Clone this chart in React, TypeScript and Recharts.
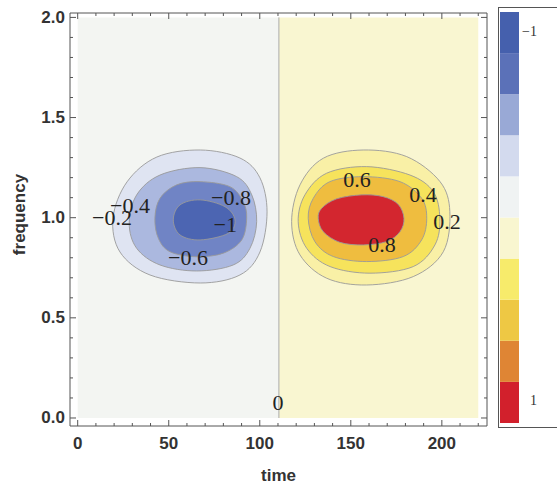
import React from 'react';
import {
  ComposedChart,
  BarChart,
  Bar,
  Scatter,
  XAxis,
  YAxis,
  ReferenceArea,
  ReferenceLine,
} from 'recharts';

// tick positions on the frame
const xTicks = [0, 10, 20, 30, 40, 50, 60, 70, 80, 90, 100, 110, 120, 130, 140, 150, 160, 170, 180, 190, 200, 210, 220];
const yTicks = [0, 0.1, 0.2, 0.3, 0.4, 0.5, 0.6, 0.7, 0.8, 0.9, 1.0, 1.1, 1.2, 1.3, 1.4, 1.5, 1.6, 1.7, 1.8, 1.9, 2.0];

// contour outlines (time, frequency)
const negLevel02 = [
  { x: 67.3, y: 1.338 }, { x: 89.1, y: 1.298 }, { x: 100.1, y: 1.199 }, { x: 104.0, y: 1.029 },
  { x: 100.1, y: 0.829 }, { x: 89.1, y: 0.714 }, { x: 67.3, y: 0.674 }, { x: 39.7, y: 0.714 },
  { x: 23.2, y: 0.829 }, { x: 19.4, y: 0.999 }, { x: 27.1, y: 1.179 }, { x: 43.5, y: 1.303 },
];
const negLevel04 = [
  { x: 67.2, y: 1.25 }, { x: 87.3, y: 1.205 }, { x: 95.6, y: 1.114 }, { x: 98.3, y: 0.98 },
  { x: 94.6, y: 0.847 }, { x: 85.4, y: 0.764 }, { x: 65.3, y: 0.734 }, { x: 45.2, y: 0.764 },
  { x: 32.4, y: 0.847 }, { x: 28.3, y: 0.972 }, { x: 32.4, y: 1.114 }, { x: 45.2, y: 1.213 },
];
const negLevel06 = [
  { x: 67.2, y: 1.18 }, { x: 83.6, y: 1.155 }, { x: 90.9, y: 1.08 }, { x: 92.8, y: 0.997 },
  { x: 90.1, y: 0.889 }, { x: 80.0, y: 0.823 }, { x: 65.3, y: 0.805 }, { x: 50.7, y: 0.83 },
  { x: 44.3, y: 0.897 }, { x: 42.4, y: 0.997 }, { x: 45.2, y: 1.097 }, { x: 54.4, y: 1.164 },
];
const negLevel08 = [
  { x: 67.2, y: 1.089 }, { x: 80.9, y: 1.055 }, { x: 86.4, y: 0.989 }, { x: 82.7, y: 0.922 },
  { x: 67.2, y: 0.889 }, { x: 56.2, y: 0.914 }, { x: 52.5, y: 0.989 }, { x: 56.2, y: 1.064 },
];
const posLevel02 = [
  { x: 156.8, y: 1.338 }, { x: 134.9, y: 1.297 }, { x: 122.1, y: 1.164 }, { x: 117.5, y: 0.98 },
  { x: 122.1, y: 0.814 }, { x: 136.7, y: 0.698 }, { x: 158.7, y: 0.664 }, { x: 184.3, y: 0.706 },
  { x: 200.8, y: 0.83 }, { x: 204.4, y: 1.03 }, { x: 199.0, y: 1.18 }, { x: 180.7, y: 1.305 },
];
const posLevel04 = [
  { x: 158.7, y: 1.255 }, { x: 136.7, y: 1.222 }, { x: 124.8, y: 1.114 }, { x: 121.1, y: 0.98 },
  { x: 125.8, y: 0.847 }, { x: 138.6, y: 0.756 }, { x: 160.5, y: 0.723 }, { x: 184.3, y: 0.756 },
  { x: 196.2, y: 0.864 }, { x: 198.9, y: 0.997 }, { x: 195.3, y: 1.13 }, { x: 182.5, y: 1.213 },
];
const posLevel06 = [
  { x: 156.8, y: 1.205 }, { x: 138.5, y: 1.18 }, { x: 129.4, y: 1.097 }, { x: 126.6, y: 0.997 },
  { x: 130.3, y: 0.88 }, { x: 140.4, y: 0.806 }, { x: 158.7, y: 0.781 }, { x: 178.8, y: 0.806 },
  { x: 188.9, y: 0.889 }, { x: 191.7, y: 0.997 }, { x: 188.9, y: 1.097 }, { x: 177.0, y: 1.18 },
];
const posLevel08 = [
  { x: 156.0, y: 1.114 }, { x: 142.2, y: 1.094 }, { x: 134.0, y: 1.047 }, { x: 132.1, y: 0.997 },
  { x: 134.9, y: 0.93 }, { x: 144.0, y: 0.877 }, { x: 156.8, y: 0.864 }, { x: 169.7, y: 0.881 },
  { x: 177.0, y: 0.93 }, { x: 179.2, y: 0.997 }, { x: 176.0, y: 1.067 }, { x: 167.8, y: 1.105 },
];

const contourLabels = [
  { x: 153.4, y: 1.189, text: '0.6' },
  { x: 189.6, y: 1.114, text: '0.4' },
  { x: 202.8, y: 0.979, text: '0.2' },
  { x: 167.1, y: 0.864, text: '0.8' },
  { x: 110.0, y: 0.075, text: '0' },
  { x: 18.8, y: 0.999, text: '\u22120.2' },
  { x: 28.7, y: 1.059, text: '\u22120.4' },
  { x: 84.2, y: 1.099, text: '\u22120.8' },
  { x: 81.0, y: 0.964, text: '\u22121' },
  { x: 60.6, y: 0.799, text: '\u22120.6' },
];

const zeroTime = 110.5;

// colour bar, top to bottom
const barColors = ['#4560ad', '#5b71b8', '#99a9d6', '#d3daee', '#f0f3f3', '#f9f6d0', '#f7eb6b', '#eec844', '#df8534', '#d2202c'];

const contours = [
  { pts: negLevel02, fill: '#dfe4f2' },
  { pts: negLevel04, fill: '#abb8df' },
  { pts: negLevel06, fill: '#7084c5' },
  { pts: negLevel08, fill: '#4c65b2' },
  { pts: posLevel02, fill: '#f9f0a6' },
  { pts: posLevel04, fill: '#f6e35c' },
  { pts: posLevel06, fill: '#efbd3f' },
  { pts: posLevel08, fill: '#d3262f' },
];

const AXIS_COLOR = '#555';
const tickFont = { fontFamily: '"Liberation Sans", Arial, sans-serif', fontWeight: 700, fontSize: 17, fill: '#333' };

const closedPath = (pts: { x: number; y: number }[]) => {
  const n = pts.length;
  if (n < 3) return '';
  let d = `M${pts[0].x},${pts[0].y}`;
  for (let i = 0; i < n; i++) {
    const p0 = pts[(i - 1 + n) % n];
    const p1 = pts[i];
    const p2 = pts[(i + 1) % n];
    const p3 = pts[(i + 2) % n];
    const c1x = p1.x + (p2.x - p0.x) / 6;
    const c1y = p1.y + (p2.y - p0.y) / 6;
    const c2x = p2.x - (p3.x - p1.x) / 6;
    const c2y = p2.y - (p3.y - p1.y) / 6;
    d += ` C${c1x},${c1y} ${c2x},${c2y} ${p2.x},${p2.y}`;
  }
  return d + 'Z';
};

const isMajorX = (v: number) => v % 50 === 0;
const isMajorY = (v: number) => Math.abs(v * 2 - Math.round(v * 2)) < 1e-6;

const BottomTick = (props: any) => {
  const { x, y, payload } = props;
  const major = isMajorX(payload.value);
  return (
    <g>
      <line x1={x} y1={y} x2={x} y2={y - (major ? 6 : 3)} stroke={AXIS_COLOR} />
      {major && (
        <text x={x} y={y + 17} textAnchor="middle" dominantBaseline="central" {...tickFont}>
          {payload.value}
        </text>
      )}
    </g>
  );
};

const TopTick = (props: any) => {
  const { x, y, payload } = props;
  const major = isMajorX(payload.value);
  return <line x1={x} y1={y} x2={x} y2={y + (major ? 6 : 3)} stroke={AXIS_COLOR} />;
};

const LeftTick = (props: any) => {
  const { x, y, payload } = props;
  const major = isMajorY(payload.value);
  return (
    <g>
      <line x1={x} y1={y} x2={x + (major ? 6 : 3)} y2={y} stroke={AXIS_COLOR} />
      {major && (
        <text x={x - 5} y={y} textAnchor="end" dominantBaseline="central" {...tickFont}>
          {payload.value.toFixed(1)}
        </text>
      )}
    </g>
  );
};

const RightTick = (props: any) => {
  const { x, y, payload } = props;
  const major = isMajorY(payload.value);
  return <line x1={x} y1={y} x2={x - (major ? 6 : 3)} y2={y} stroke={AXIS_COLOR} />;
};

const hidden = () => <g />;

const LabelText = (props: any) => {
  const { cx, cy, payload } = props;
  return (
    <text
      x={cx}
      y={cy}
      textAnchor="middle"
      dominantBaseline="central"
      fontFamily='"Liberation Serif", "Times New Roman", serif'
      fontSize={22}
      fill="#222"
    >
      {payload.text}
    </text>
  );
};

const App: React.FC = () => {
  return (
    <div style={{ position: 'absolute', left: 0, top: 0, width: 557, height: 487, background: '#fff' }}>
      <ComposedChart width={557} height={487} margin={{ top: 12, right: 69, bottom: 0, left: 0 }}>
        <XAxis
          xAxisId="b"
          dataKey="x"
          type="number"
          domain={[-4.23, 224.8]}
          allowDataOverflow
          ticks={xTicks}
          interval={0}
          height={61}
          tickSize={0}
          tickMargin={0}
          tick={<BottomTick />}
          stroke={AXIS_COLOR}
          label={{
            content: (p: any) => (
              <text
                x={p.viewBox.x + p.viewBox.width / 2}
                y={p.viewBox.y + 49}
                textAnchor="middle"
                dominantBaseline="central"
                {...tickFont}
              >
                time
              </text>
            ),
          }}
        />
        <XAxis
          xAxisId="t"
          dataKey="x"
          type="number"
          orientation="top"
          domain={[-4.23, 224.8]}
          allowDataOverflow
          ticks={xTicks}
          interval={0}
          height={1}
          tickSize={0}
          tickMargin={0}
          tick={<TopTick />}
          stroke={AXIS_COLOR}
        />
        <YAxis
          yAxisId="l"
          dataKey="y"
          type="number"
          domain={[-0.04, 2.022]}
          allowDataOverflow
          ticks={yTicks}
          interval={0}
          width={70}
          tickSize={0}
          tickMargin={0}
          tick={<LeftTick />}
          stroke={AXIS_COLOR}
          label={{
            content: (p: any) => {
              const cx = p.viewBox.x + 19;
              const cy = p.viewBox.y + p.viewBox.height / 2 - 5;
              return (
                <text
                  x={cx}
                  y={cy}
                  transform={`rotate(-90 ${cx} ${cy})`}
                  textAnchor="middle"
                  dominantBaseline="central"
                  {...tickFont}
                >
                  frequency
                </text>
              );
            },
          }}
        />
        <YAxis
          yAxisId="r"
          dataKey="y"
          type="number"
          orientation="right"
          domain={[-0.04, 2.022]}
          allowDataOverflow
          ticks={yTicks}
          interval={0}
          width={1}
          tickSize={0}
          tickMargin={0}
          tick={<RightTick />}
          stroke={AXIS_COLOR}
        />
        <ReferenceArea xAxisId="b" yAxisId="l" x1={0} x2={zeroTime} y1={0} y2={2} fill="#f3f5f2" fillOpacity={1} stroke="none" />
        <ReferenceArea xAxisId="b" yAxisId="l" x1={zeroTime} x2={220} y1={0} y2={2} fill="#f9f6d1" fillOpacity={1} stroke="none" />
        <ReferenceLine
          xAxisId="b"
          yAxisId="l"
          segment={[{ x: zeroTime, y: 0 }, { x: zeroTime, y: 2 }]}
          stroke="#aaa"
          strokeWidth={1}
        />
        {contours.map((c, i) => (
          <Scatter
            key={i}
            xAxisId="b"
            yAxisId="l"
            data={c.pts}
            isAnimationActive={false}
            shape={hidden}
            line={(lp: any) => (
              <path d={closedPath(lp.points)} fill={c.fill} stroke="#9a9a9a" strokeWidth={0.9} />
            )}
          />
        ))}
        <Scatter
          xAxisId="b"
          yAxisId="l"
          data={contourLabels}
          isAnimationActive={false}
          shape={<LabelText />}
        />
      </ComposedChart>

      <div
        style={{
          position: 'absolute',
          left: 498,
          top: 7,
          width: 59,
          height: 421,
          boxSizing: 'border-box',
          borderLeft: '1px solid #555',
          borderTop: '1px solid #555',
          borderBottom: '1px solid #555',
        }}
      />
      <div style={{ position: 'absolute', left: 500, top: 12 }}>
        <BarChart
          width={19}
          height={411}
          data={[{ name: 'scale', ...Object.fromEntries(barColors.map((_, i) => [`c${i}`, 1])) }]}
          margin={{ top: 0, right: 0, bottom: 0, left: 0 }}
          barCategoryGap={0}
          barGap={0}
        >
          <XAxis dataKey="name" hide />
          <YAxis hide domain={[0, barColors.length]} />
          {barColors
            .slice()
            .reverse()
            .map((col, i) => (
              <Bar key={i} dataKey={`c${barColors.length - 1 - i}`} stackId="s" fill={col} isAnimationActive={false} />
            ))}
        </BarChart>
      </div>
      <div
        style={{
          position: 'absolute',
          left: 522,
          top: 24,
          fontFamily: '"Liberation Serif", "Times New Roman", serif',
          fontSize: 14,
          color: '#333',
        }}
      >
        {'\u22121'}
      </div>
      <div
        style={{
          position: 'absolute',
          left: 530,
          top: 393,
          fontFamily: '"Liberation Serif", "Times New Roman", serif',
          fontSize: 14,
          color: '#333',
        }}
      >
        1
      </div>
    </div>
  );
};

export default App;
